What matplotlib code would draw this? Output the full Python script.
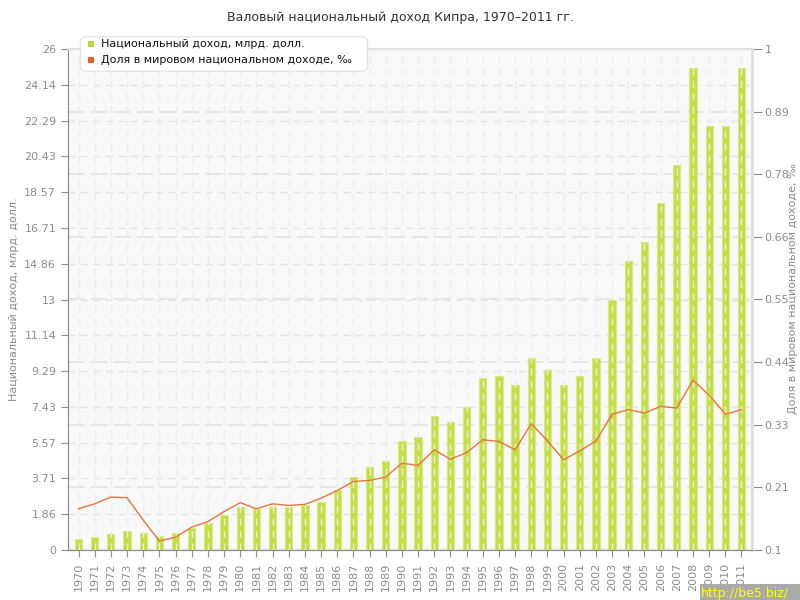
import matplotlib
matplotlib.use("Agg")
import matplotlib.pyplot as plt
from matplotlib.patches import FancyBboxPatch, Rectangle
import numpy as np

years = list(range(1970, 2012))
income = [0.57, 0.67, 0.83, 0.99, 0.88, 0.74, 0.86, 1.12, 1.40, 1.83,
          2.21, 2.14, 2.21, 2.21, 2.32, 2.51, 3.11, 3.80, 4.31, 4.62,
          5.65, 5.85, 6.93, 6.62, 7.44, 8.95, 9.03, 8.54, 9.96, 9.35,
          8.54, 9.03, 9.96, 13.0, 15.0, 16.0, 18.0, 20.0, 25.0, 22.0,
          22.0, 25.0]
share = [0.174, 0.183, 0.195, 0.194, 0.154, 0.116, 0.123, 0.141, 0.151, 0.169,
         0.185, 0.174, 0.183, 0.180, 0.182, 0.193, 0.207, 0.223, 0.225, 0.231,
         0.256, 0.252, 0.280, 0.263, 0.275, 0.298, 0.295, 0.280, 0.327, 0.296,
         0.262, 0.278, 0.296, 0.344, 0.352, 0.346, 0.358, 0.355, 0.405, 0.378,
         0.344, 0.352]
left_ticklabels = ['0', '1.86', '3.71', '5.57', '7.43', '9.29', '11.14', '13',
                   '14.86', '16.71', '18.57', '20.43', '22.29', '24.14', '26']
right_ticklabels = ['0.1', '0.21', '0.33', '0.44', '0.55', '0.66', '0.78', '0.89', '1']

title = 'Валовый национальный доход Кипра, 1970–2011 гг.'
label_income = 'Национальный доход, млрд. долл.'
label_share = 'Доля в мировом национальном доходе, ‰'

plt.rcParams['font.family'] = ['DejaVu Sans']
gray = '#8c8c8c'
green = '#c4df45'
orange = '#e8743b'

fig = plt.figure(figsize=(8, 6), dpi=100)
ax = fig.add_axes([68/800, 50/600, (752-68)/800, (550-49)/600])
ax.set_facecolor('#f9f9f9')
x = np.arange(len(years))

ax.set_xlim(-0.65, len(years) - 0.35)
ax.set_ylim(0, 26)
lt = np.linspace(0, 26, 15)
ax.set_yticks(lt)
ax.set_yticklabels(left_ticklabels)
for v in lt:
    ax.axhline(v, color='#e4e4e4', lw=1, ls=(0, (5, 4)), zorder=0.5)

rt = np.linspace(0.1, 1.0, 9)
# right-axis grid lines, drawn behind the bars (mapped onto left scale)
for v in rt:
    ax.axhline((v - 0.1) / 0.9 * 26, color='#e6e6e6', lw=1.5, ls=(0, (8, 3)), zorder=0.6)

ax.bar(x, income, width=0.45, color=green, edgecolor='#d6ea86', lw=0.8, zorder=2)
for xi in x:
    ax.axvline(xi, color='#ececec', lw=1, ls=(0, (5, 4)), zorder=2.5)

ax.set_xticks(x)
ax.set_xticklabels([str(y) for y in years], rotation=90, color=gray, fontsize=8)
ax.tick_params(axis='x', length=5, color=gray, pad=4)
ax.tick_params(axis='y', length=5, color=gray, labelcolor=gray, labelsize=8)
ax.set_ylabel(label_income, color=gray, fontsize=8)
ax.yaxis.set_label_coords(-0.072, 0.5)

ax2 = ax.twinx()
ax2.set_ylim(0.1, 1.0)
ax2.set_yticks(rt)
ax2.set_yticklabels(right_ticklabels)
ax2.tick_params(axis='y', length=7, color=gray, labelcolor=gray, labelsize=8, pad=2)
ax2.plot(x, share, color=orange, lw=1, zorder=3)
fig.text(793/800, 1 - 289/600, label_share, color=gray, fontsize=8, rotation=90,
         ha='center', va='center')

for a in (ax, ax2):
    a.spines['top'].set_color('#e0e0e0')
    a.spines['right'].set_color('#e0e0e0')
    a.spines['right'].set_linewidth(2)
    a.spines['left'].set_color(gray)
    a.spines['bottom'].set_color(gray)
    a.spines['top'].set_linewidth(1.5)

fig.text(0.5, 1 - 18/600, title, ha='center', va='center', fontsize=9, color='#333333')

# legend box
lg = FancyBboxPatch((82/800, 1 - 70/600), (366-82)/800, (70-38)/600,
                    boxstyle='round,pad=0.002,rounding_size=0.008',
                    transform=fig.transFigure, facecolor='white',
                    edgecolor='#e6e6e6', lw=1, zorder=10)
fig.add_artist(lg)
fig.add_artist(Rectangle((88/800, 1 - 47/600), 6/800, 6/600, transform=fig.transFigure,
                         facecolor='#b9d635', edgecolor='none', zorder=11))
fig.add_artist(Rectangle((88/800, 1 - 63/600), 6/800, 6/600, transform=fig.transFigure,
                         facecolor='#e8622a', edgecolor='none', zorder=11))
fig.text(101/800, 1 - 44/600, label_income, fontsize=8, va='center', color='#111111', zorder=12)
fig.text(101/800, 1 - 60/600, label_share, fontsize=8, va='center', color='#111111', zorder=12)

# watermark
fig.add_artist(Rectangle((700/800, 0), 100/800, 16/600, transform=fig.transFigure,
                         facecolor='#aaaaaa', edgecolor='none', zorder=11))
fig.text(701/800, 7/600, 'http://be5.biz/', fontsize=9, color='#ffff00', va='center',
         zorder=12)

fig.savefig('out.png', dpi=100)
